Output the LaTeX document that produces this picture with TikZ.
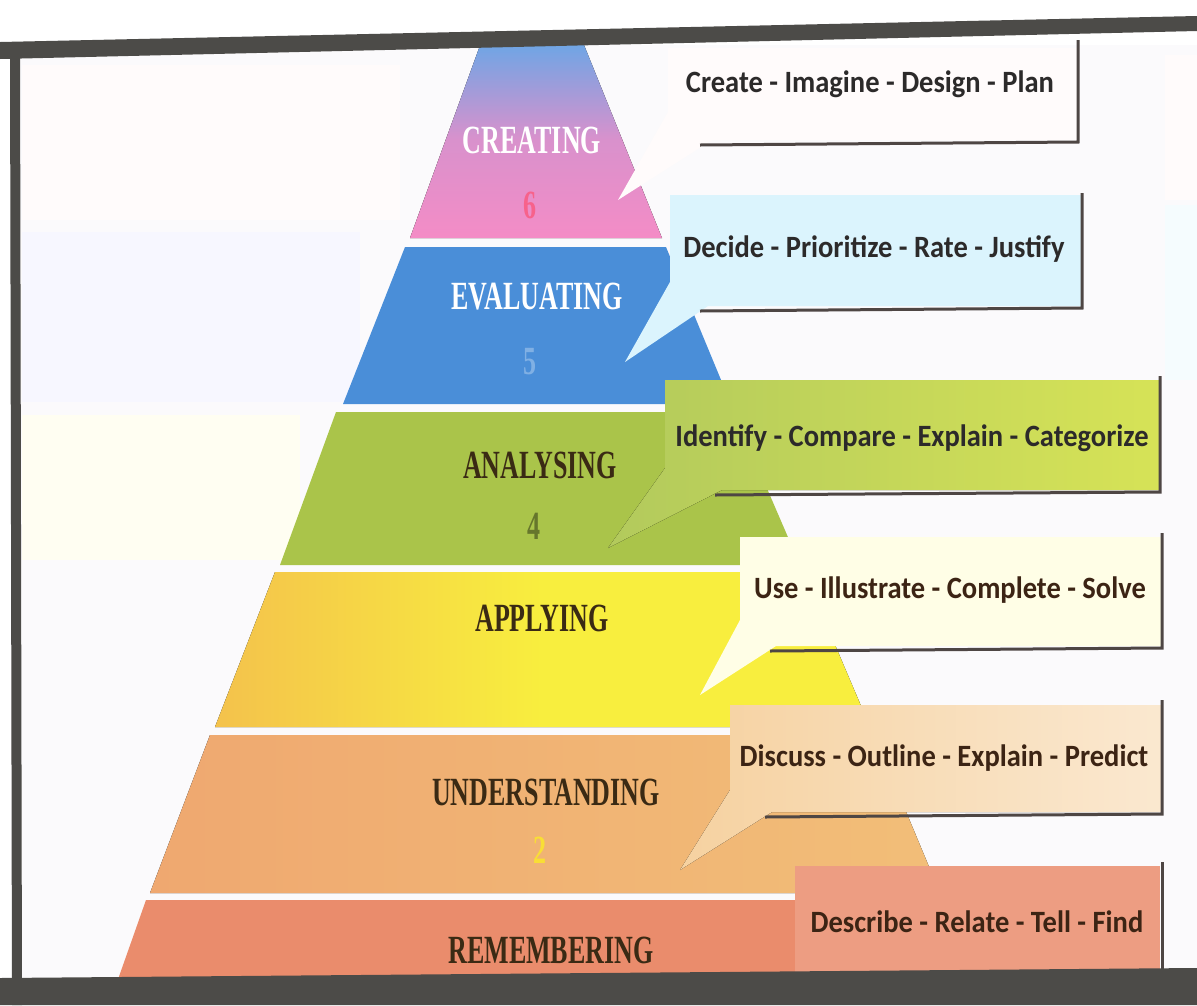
\documentclass[tikz,border=0pt]{standalone}
\usepackage{fontspec}
\setmainfont{Liberation Serif}
\newfontfamily\layerfont[FakeStretch=0.65]{Liberation Serif}
\newfontfamily\verbfont[FakeStretch=0.92]{Carlito}

\definecolor{bordergrey}{HTML}{4C4B48}
\definecolor{slidewhite}{HTML}{FBFAFC}
\definecolor{shadowgrey}{HTML}{4E4644}
\definecolor{createblue}{HTML}{6AA6E6}
\definecolor{createpink}{HTML}{F48CC6}
\definecolor{evalblue}{HTML}{4A8ED8}
\definecolor{analgreen}{HTML}{AAC44A}
\definecolor{applyorange}{HTML}{F4C24C}
\definecolor{applyyellow}{HTML}{F8EE3E}
\definecolor{underorange}{HTML}{EFA870}
\definecolor{underpeach}{HTML}{F2BE78}
\definecolor{rememsalmon}{HTML}{EA8C6C}
\definecolor{labelbrown}{HTML}{3A2A14}
\definecolor{verbgrey}{HTML}{2C2A2A}
\definecolor{verbbrown}{HTML}{3C2414}

\begin{document}
\begin{tikzpicture}[x=1pt,y=-1pt]
% Define styles for layers, callouts and texts
\tikzstyle{layerlabel} = [font=\layerfont\bfseries\fontsize{40}{44}\selectfont, text=labelbrown, inner sep=0pt]
\tikzstyle{levelnum} = [font=\layerfont\bfseries\fontsize{40}{44}\selectfont, inner sep=0pt]
\tikzstyle{verbs} = [font=\verbfont\bfseries\fontsize{31}{34}\selectfont, text=verbgrey, inner sep=0pt]
\tikzstyle{shadowline} = [draw=shadowgrey, line width=3pt]

\useasboundingbox (0,0) rectangle (1197,1005);

% Slide background
\fill[white] (0,0) rectangle (1197,1005);
\fill[slidewhite] (15,45) rectangle (1197,980);
\fill[pink!6] (22,65) rectangle (400,220);
\fill[blue!3] (22,232) rectangle (360,402);
\fill[yellow!5] (22,415) rectangle (300,560);
\fill[pink!7] (1165,55) rectangle (1197,200);
\fill[cyan!4] (1165,205) rectangle (1197,380);

% Pyramid layers
\fill[top color=createblue, bottom color=createpink, middle color=createpink!80!createblue] (482,40) -- (582,40) -- (662,238) -- (410,238) -- cycle;
\fill[evalblue] (405,247) -- (666,247) -- (731,404) -- (343,404) -- cycle;
\fill[analgreen] (336,412) -- (734,412) -- (800,565) -- (280,565) -- cycle;
\fill[left color=applyorange, right color=applyyellow, middle color=applyyellow] (275,572) -- (804,572) -- (870,727) -- (215,727) -- cycle;
\fill[left color=underorange, right color=underpeach] (210,735) -- (874,735) -- (940,893) -- (150,893) -- cycle;
\fill[rememsalmon] (146,900) -- (944,900) -- (976,985) -- (116,985) -- cycle;

% Callouts
\fill[pink!6] (668,48) -- (1078,48) -- (1078,140) -- (712,140) -- (618,200) -- (668,112) -- cycle;
\draw[shadowline] (1078,40) -- (1078,142) -- (700,145);
\fill[cyan!14] (670,195) -- (1082,195) -- (1082,306) -- (708,306) -- (625,362) -- (670,282) -- cycle;
\draw[shadowline] (1082,193) -- (1082,308) -- (700,311);
\fill[left color=analgreen!90, right color=analgreen!60!yellow!80] (665,380) -- (1160,380) -- (1160,490) -- (722,490) -- (608,548) -- (665,468) -- cycle;
\draw[shadowline] (1160,376) -- (1160,492) -- (715,495);
\fill[yellow!10] (740,537) -- (1162,537) -- (1162,646) -- (776,646) -- (700,695) -- (740,620) -- cycle;
\draw[shadowline] (1162,533) -- (1162,648) -- (770,651);
\fill[left color=underpeach!70, right color=underpeach!35] (730,705) -- (1162,705) -- (1162,812) -- (772,812) -- (680,870) -- (730,790) -- cycle;
\draw[shadowline] (1162,700) -- (1162,814) -- (765,817);
\fill[rememsalmon!85!white] (795,866) rectangle (1160,980);
\draw[shadowline] (1162,862) -- (1162,975);

% Slide frame
\fill[bordergrey] (0,42) -- (1197,16) -- (1197,31) -- (0,59) -- cycle;
\fill[bordergrey] (10,44) -- (20,44) -- (22,1005) -- (12,1005) -- cycle;
\fill[bordergrey] (0,978) -- (1197,968) -- (1197,1005) -- (0,1005) -- cycle;

% Nodes
\node[layerlabel, text=white] (creating) at (532,140) {CREATING};
\node[levelnum, text=createpink!70!red] (six) at (530,205) {6};
\node[layerlabel, text=white] (evaluating) at (537,297) {EVALUATING};
\node[levelnum, text=evalblue!70!white] (five) at (530,362) {5};
\node[layerlabel] (analysing) at (540,465) {ANALYSING};
\node[levelnum, text=analgreen!60!black] (four) at (534,526) {4};
\node[layerlabel] (applying) at (542,618) {APPLYING};
\node[layerlabel] (understanding) at (546,792) {UNDERSTANDING};
\node[levelnum, text=yellow!60!underpeach] (two) at (540,850) {2};
\node[layerlabel] (remembering) at (551,950) {REMEMBERING};

\node[verbs] (createverbs) at (870,84) {Create - Imagine - Design - Plan};
\node[verbs] (evalverbs) at (874,249) {Decide - Prioritize - Rate - Justify};
\node[verbs] (analverbs) at (912,438) {Identify - Compare - Explain - Categorize};
\node[verbs, text=verbbrown] (applyverbs) at (950,590) {Use - Illustrate - Complete - Solve};
\node[verbs, text=verbbrown] (underverbs) at (944,758) {Discuss - Outline - Explain - Predict};
\node[verbs, text=verbbrown] (rememverbs) at (977,922) {Describe - Relate - Tell - Find};
\end{tikzpicture}
\end{document}
